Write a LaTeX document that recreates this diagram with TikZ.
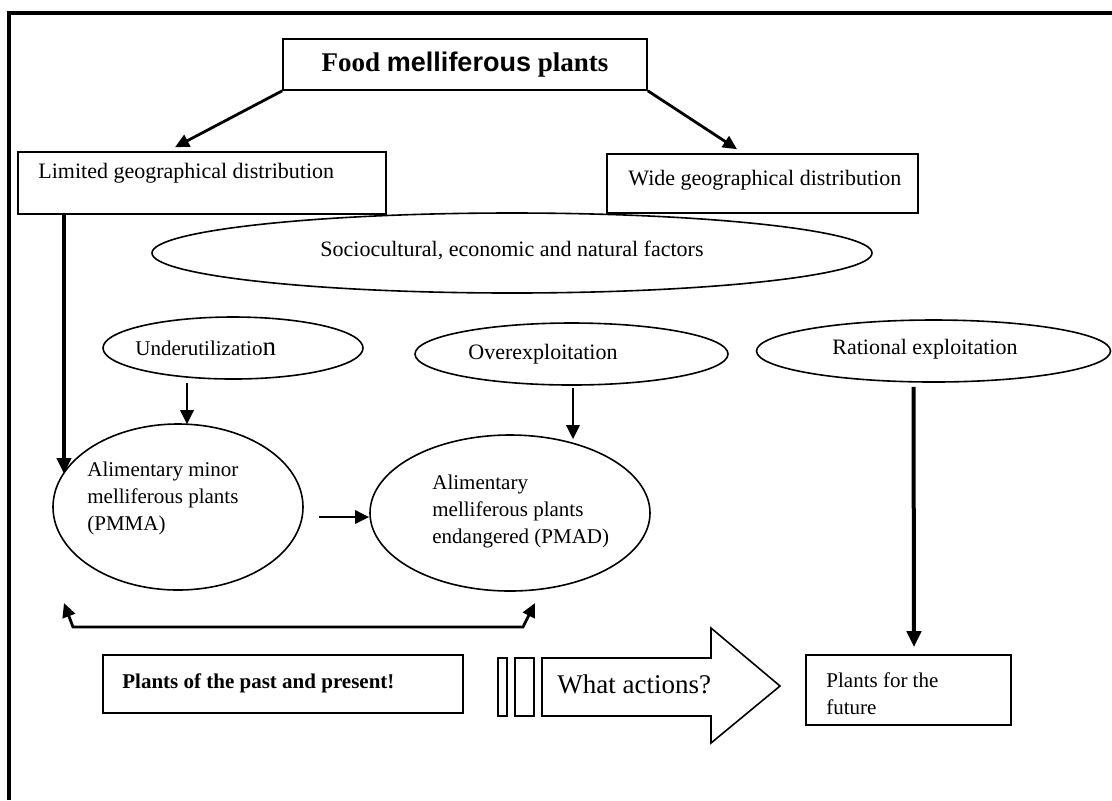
\documentclass[tikz,border=0pt]{standalone}
\usepackage{fontspec}
\setmainfont{Liberation Serif}
\newfontfamily\arialfont{Liberation Sans}
\usetikzlibrary{arrows.meta, positioning, shapes.geometric, calc}

\begin{document}
\begin{tikzpicture}[x=0.5pt, y=-0.5pt,
    every node/.style={font=\fontsize{10.5}{13.5}\selectfont, inner sep=0pt},
    box/.style={draw, line width=0.8pt},
    oval/.style={draw, ellipse, line width=0.8pt},
    txt/.style={anchor=west, align=left},
    big/.style={font=\fontsize{11}{13.5}\selectfont},
    arrow/.style={-{Triangle[length=7pt, width=6.5pt]}, line width=1.4pt},
    bigarrow/.style={-{Triangle[length=8pt, width=7pt]}, line width=2pt}
]
\useasboundingbox (0,0) rectangle (1112,800);

% frame (top and left only)
\draw[line width=2pt, line join=miter] (9,800) -- (9,13) -- (1112,13);

% top
\node[box, minimum width=182pt, minimum height=25.5pt] (food) at (465,64.5) {};
\node[font=\fontsize{13.5}{16}\selectfont\bfseries] (foodtxt) at (465,65) {Food {\arialfont melliferous} plants};

\node[box, minimum width=184pt, minimum height=31pt] (limited) at (202,183) {};
\node[txt, big] (limitedtxt) at (38,173) {Limited geographical distribution};
\node[box, minimum width=155.5pt, minimum height=29.5pt] (wide) at (762.5,183.5) {};
\node[txt, big] (widetxt) at (628,180) {Wide geographical distribution};

\draw[arrow] (food.south west) -- ([xshift=-13.5pt, yshift=2pt]limited.north);
\draw[arrow] (food.south east) -- ([xshift=-12.75pt, yshift=2pt]wide.north);

% factors
\node[oval, minimum width=360pt, minimum height=40pt] (factors) at (512,253) {};
\node[big] (factorstxt) at (512,250) {Sociocultural, economic and natural factors};

\node[oval, minimum width=130pt, minimum height=31pt] (under) at (233,348) {};
\node[txt] (undertxt) at (135,348) {Underutilizatio{\fontsize{13.5}{13.5}\selectfont n}};
\node[oval, minimum width=156.5pt, minimum height=31pt] (over) at (571.5,354) {};
\node[txt, big] (overtxt) at (468,354) {Overexploitation};
\node[oval, minimum width=177pt, minimum height=31pt] (rational) at (933.5,351) {};
\node[txt, big] (rationaltxt) at (832,349) {Rational exploitation};

% minor / endangered plants
\node[oval, minimum width=125pt, minimum height=83pt] (pmma) at (178,507) {};
\node[txt] (pmmatxt) at (87,498) {Alimentary minor\\melliferous plants\\(PMMA)};
\node[oval, minimum width=140pt, minimum height=78pt] (pmad) at (510,513) {};
\node[txt] (pmadtxt) at (432,511) {Alimentary\\melliferous plants\\endangered (PMAD)};

\draw[bigarrow] ([xshift=-69pt]limited.south) -- ($(pmma.center)+(-114,-33)$);
\draw[arrow] ($(under.south)+(-46,3)$) -- ($(pmma.north)+(9,1)$);
\draw[arrow] ($(over.south)+(1.5,2)$) -- ($(pmad.north)+(63,5)$);
\draw[arrow] ($(pmma.east)+(15,10)$) -- ($(pmad.west)+(0,4)$);

\coordinate (backl) at (64,603);
\coordinate (backr) at (535,603);
\draw[arrow, {Triangle[length=7pt, width=6.5pt]}-{Triangle[length=7pt, width=6.5pt]}, line join=miter]
    (backl) -- ++(9,24) -- ++(450,0) -- (backr);

% bottom row
\node[box, minimum width=180pt, minimum height=29pt] (past) at (283,684) {};
\node[txt, font=\fontsize{10.5}{13.5}\selectfont\bfseries] (pasttxt) at (122,683) {Plants of the past and present!};

\node[box, minimum width=4.5pt, minimum height=29pt] (bar1) at (502.5,687) {};
\node[box, minimum width=9.5pt, minimum height=29pt] (bar2) at (524.5,687) {};
\draw[line width=0.8pt, line join=miter] (542,658) -- (711,658) -- (711,628) -- (780,686)
    -- (711,743) -- (711,716) -- (542,716) -- cycle;
\node[txt, font=\fontsize{13.5}{16}\selectfont] (actions) at (557,684) {What actions?};

\node[box, minimum width=102.5pt, minimum height=35pt] (future) at (908.5,690) {};
\node[txt] (futuretxt) at (826,694) {Plants for the\\future};

\draw[bigarrow] ($(rational.south)+(-20,4)$) -- ($(future.north)+(5.5,-7)$);

\end{tikzpicture}
\end{document}
